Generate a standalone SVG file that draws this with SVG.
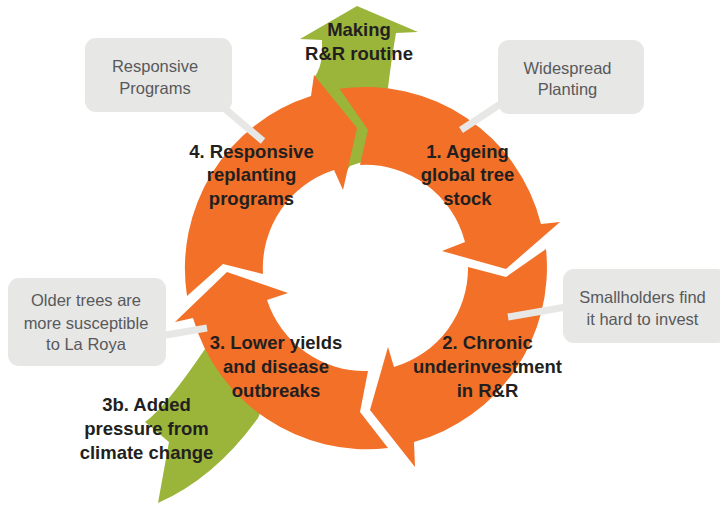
<svg xmlns="http://www.w3.org/2000/svg" width="720" height="506" viewBox="0 0 720 506">
<style>
.or{fill:#f27027}
.gr{fill:#9bb53b}
.box{fill:#e7e7e6}
.lbl{font-family:"Liberation Sans",Arial,sans-serif;font-weight:bold;font-size:18.5px;fill:#231f20;text-anchor:middle}
.co{font-family:"Liberation Sans",Arial,sans-serif;font-size:16.5px;fill:#58595b;text-anchor:middle}
.conn line{stroke:#e7e7e6;stroke-width:7}
</style>
<rect width="720" height="506" fill="#ffffff"/>
<g id="green-routine">
<path class="gr" d="M357,6 L418,32 L396,33 Q391,62 388,88 L378,130 L368,160 L350,166 L344,175 L320,120 L314,78 Q321,68 322,55 L322,40 L300,39 Z"/>
<text class="lbl" x="359" y="36">Making</text>
<text class="lbl" x="359" y="60">R&amp;R routine</text>
</g>
<g id="green-climate">
<path class="gr" d="M205,349 Q165,408 145,422 L169,442 L158,503 Q215,478 258,418 L275,380 L235,330 Z"/>
<text class="lbl" x="146.5" y="411">3b. Added</text>
<text class="lbl" x="146.5" y="435">pressure from</text>
<text class="lbl" x="146.5" y="458.5">climate change</text>
</g>
<g id="step1">
<path class="or" d="M339.5,88.8 A181,181 0 0 1 541,224 L560,222 L506,269 L442,251 L465,242 A103,103 0 0 0 360,165 L368,130 Z"/>
<text class="lbl" x="467.5" y="157.5">1. Ageing</text>
<text class="lbl" x="467.5" y="181">global tree</text>
<text class="lbl" x="467.5" y="204.5">stock</text>
</g>
<g id="step2">
<path class="or" d="M546,249 A181,181 0 0 1 414,442 L415,467 L370,410 L388,347 L394,367 A103,103 0 0 0 468,267 L506,277 Z"/>
<text class="lbl" x="487.5" y="348.5">2. Chronic</text>
<text class="lbl" x="487.5" y="372.5">underinvestment</text>
<text class="lbl" x="487.5" y="396.5">in R&amp;R</text>
</g>
<g id="step3">
<path class="or" d="M388,448 A181,181 0 0 1 193,318 L175,322 L227,272 L288,293 L267,300 A103,103 0 0 0 368,371 L360,412 Z"/>
<text class="lbl" x="276" y="348.5">3. Lower yields</text>
<text class="lbl" x="276" y="372.5">and disease</text>
<text class="lbl" x="276" y="396.5">outbreaks</text>
</g>
<g id="step4">
<path class="or" d="M187,296 A181,181 0 0 1 311,96 L314,75 L357,128 L343,190 L334,170 A103,103 0 0 0 263,274 L223,264 Z"/>
<text class="lbl" x="251.5" y="157.5">4. Responsive</text>
<text class="lbl" x="251.5" y="181">replanting</text>
<text class="lbl" x="251.5" y="204.5">programs</text>
</g>
<g id="connectors" class="conn">
<line x1="224" y1="108" x2="263" y2="141"/>
<line x1="502" y1="103" x2="461" y2="130"/>
<line x1="566" y1="307" x2="508" y2="317"/>
<line x1="160" y1="336" x2="207" y2="328"/>
</g>
<g id="note-responsive">
<rect class="box" x="85" y="38" width="147" height="74" rx="11"/>
<text class="co" x="155" y="72">Responsive</text>
<text class="co" x="155" y="93.5">Programs</text>
</g>
<g id="note-widespread">
<rect class="box" x="498" y="40" width="146" height="74" rx="11"/>
<text class="co" x="567.5" y="73.5">Widespread</text>
<text class="co" x="567.5" y="95">Planting</text>
</g>
<g id="note-smallholders">
<rect class="box" x="563" y="269" width="165" height="74" rx="11"/>
<text class="co" x="642.5" y="303">Smallholders find</text>
<text class="co" x="642.5" y="324.5">it hard to invest</text>
</g>
<g id="note-older">
<rect class="box" x="8" y="278" width="158" height="88" rx="11"/>
<text class="co" x="86" y="306">Older trees are</text>
<text class="co" x="86" y="328.5">more susceptible</text>
<text class="co" x="86" y="350">to La Roya</text>
</g>
</svg>
